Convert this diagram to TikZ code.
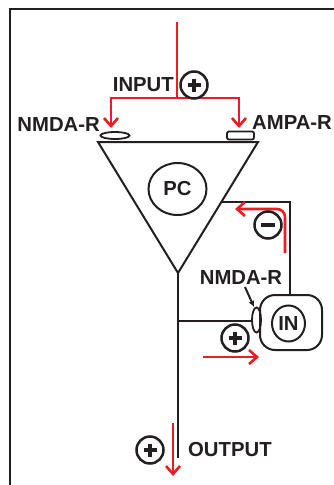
\documentclass[tikz,border=0pt]{standalone}
\usepackage{fontspec}
\setmainfont{Liberation Sans}
\usetikzlibrary{arrows.meta,shapes.geometric,calc}
\definecolor{myred}{RGB}{237,28,36}
\definecolor{myblack}{RGB}{35,31,32}
\tikzset{
  lbl/.style={font=\fontsize{20.3}{21}\selectfont\bfseries, text=myblack, inner sep=0pt},
  blk/.style={draw=myblack, line width=2pt},
  redarrow/.style={draw=myred, line width=2.6pt, -{Straight Barb[length=8pt,width=14pt,line width=2.6pt]}},
  redline/.style={draw=myred, line width=2.6pt},
  sign/.style={circle, draw=myblack, line width=2.5pt, minimum size=27pt, inner sep=0pt},
  plussign/.style={sign, path picture={
     \draw[myblack, line width=3.4pt] ($(path picture bounding box.center)+(-6.5,0)$) -- ($(path picture bounding box.center)+(6.5,0)$);
     \draw[myblack, line width=3.4pt] ($(path picture bounding box.center)+(0,-6.5)$) -- ($(path picture bounding box.center)+(0,6.5)$);}},
  minussign/.style={sign, path picture={
     \draw[myblack, line width=3.8pt] ($(path picture bounding box.center)+(-7,0)$) -- ($(path picture bounding box.center)+(7,0)$);}},
}
\begin{document}
\begin{tikzpicture}[x=1pt,y=-1pt]
\useasboundingbox (0,0) rectangle (334,485);
\fill[white] (0,0) rectangle (334,485);
% frame
\coordinate (fTL) at (10,9);
\coordinate (fTR) at (334,9);
\coordinate (fBL) at (10,485);
\draw[myblack, line width=2.6pt] (fBL) -- (fTL) -- (fTR);
% triangle (PC)
\coordinate (tl) at (98,142);
\coordinate (tr) at (258,142);
\coordinate (apex) at (178,273);
\draw[blk, line join=miter] (tl) -- (tr) -- (apex) -- cycle;
\node[ellipse, draw=myblack, line width=2pt, minimum width=58pt, minimum height=52pt, inner sep=0pt, lbl] (pc) at (177.5,189) {PC};
% receptors
\node[ellipse, draw=myblack, line width=1.8pt, minimum width=29pt, minimum height=7pt, inner sep=0pt] (nmda1) at (115,135.5) {};
\node[rectangle, rounded corners=2pt, draw=myblack, line width=1.8pt, minimum width=27pt, minimum height=8pt, inner sep=0pt] (ampa) at (240.5,135.5) {};
\node[lbl, anchor=east] (nmdalbl) at (100,125) {NMDA-R};
\node[lbl, anchor=west] (ampalbl) at (252,123) {AMPA-R};
% input
\coordinate (inTop) at (177,22);
\coordinate (inJ) at (177,98);
\coordinate (inL) at (111,98);
\coordinate (inR) at (239,98);
\coordinate (inLe) at (111,128);
\coordinate (inRe) at (239,128);
\draw[redline] (inTop) -- (inJ);
\draw[redarrow] (inJ) -- (inL) -- (inLe);
\draw[redarrow] (inJ) -- (inR) -- (inRe);
\node[lbl, anchor=east] (inputlbl) at (174,85) {INPUT};
\node[plussign] (plusIn) at (194,85) {};
% IN box
\node[rectangle, rounded corners=15pt, draw=myblack, line width=2pt, minimum width=62pt, minimum height=55pt, inner sep=0pt] (inbox) at (291,322.5) {};
\node[ellipse, draw=myblack, line width=2pt, minimum width=33pt, minimum height=36pt, inner sep=0pt, lbl] (incirc) at (288.5,323.5) {IN};
\node[ellipse, draw=myblack, line width=1.8pt, minimum width=9pt, minimum height=25pt, inner sep=0pt] (nmda2) at (256.5,320) {};
\node[lbl] (nmda2lbl) at (241,278) {NMDA-R};
\coordinate (nmArS) at (245,287);
\coordinate (nmArE) at (254,307);
\draw[myblack, line width=2pt, -{Latex[length=6pt,width=6pt]}] (nmArS) -- (nmArE);
% axon and feedback
\coordinate (axBot) at (178,458);
\coordinate (axJ) at (178,321);
\draw[blk] (apex) -- (axBot);
\draw[blk] (axJ) -- (nmda2.west |- axJ);
\coordinate (fbL) at (221.4,202);
\coordinate (fbR) at (290,202);
\draw[blk] (fbL) -- (fbR) -- (inbox.north -| fbR);
% red feedback arrow
\coordinate (rfS) at (285,253);
\coordinate (rfC) at (285,209);
\coordinate (rfE) at (235,209);
\draw[redarrow, rounded corners=8pt] (rfS) -- (rfC) -- (rfE);
\node[minussign] (minus) at (268,225) {};
% red forward arrow
\node[plussign] (plusMid) at (235,338) {};
\coordinate (rpS) at (203,357);
\coordinate (rpE) at (259,357);
\draw[redarrow] (rpS) -- (rpE);
% output
\coordinate (outS) at (173,423);
\coordinate (outE) at (173,476);
\draw[redarrow] (outS) -- (outE);
\node[plussign] (plusOut) at (150,450) {};
\node[lbl, anchor=west] (outlbl) at (188,450) {OUTPUT};
\end{tikzpicture}
\end{document}
